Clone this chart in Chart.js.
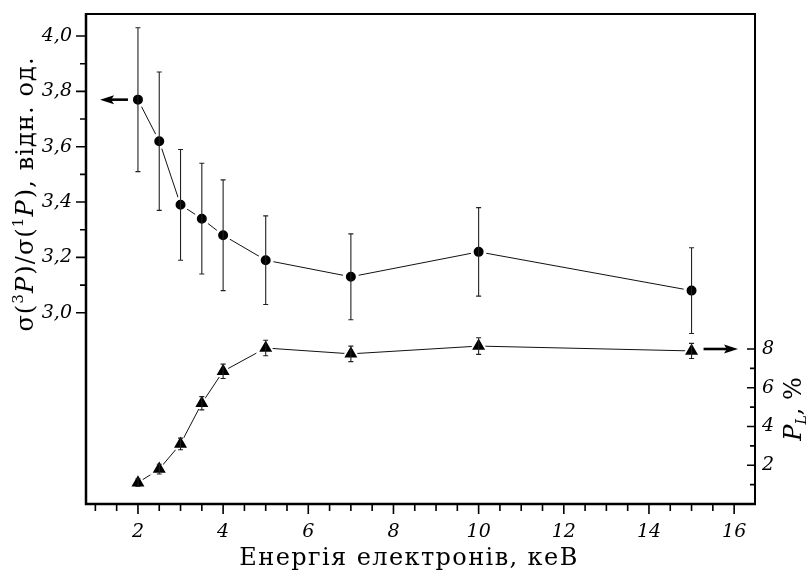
<!DOCTYPE html>
<html>
<head>
<meta charset="utf-8">
<script src="https://cdn.jsdelivr.net/npm/chart.js@4/dist/chart.umd.min.js"></script>
<style>
html,body{margin:0;padding:0;background:#ffffff;}
#wrap{width:810px;height:572px;}
</style>
</head>
<body>
<div id="wrap"><canvas id="c" width="810" height="572"></canvas></div>
<script>
// ---- data ----
const energies = [2, 2.5, 3, 3.5, 4, 5, 7, 10, 15];              // keV
const ratioValues = [3.77, 3.62, 3.39, 3.34, 3.28, 3.19, 3.13, 3.22, 3.08];
const ratioErrors = [0.26, 0.25, 0.20, 0.20, 0.20, 0.16, 0.155, 0.16, 0.155];
const polValues = [1.1, 1.8, 3.1, 5.2, 6.85, 8.05, 7.75, 8.15, 7.9]; // P_L, %
const polErrors = [0.2, 0.25, 0.3, 0.34, 0.37, 0.40, 0.40, 0.43, 0.39];

// ---- tick values ----
const xTickValues = [1, 1.5, 2, 2.5, 3, 3.5, 4, 4.5, 5, 5.5, 6, 6.5, 7, 7.5, 8, 8.5, 9, 9.5, 10, 10.5, 11, 11.5, 12, 12.5, 13, 13.5, 14, 14.5, 15, 15.5, 16];
const xLabelValues = [2, 4, 6, 8, 10, 12, 14, 16];
const leftTickValues = [3.0, 3.1, 3.2, 3.3, 3.4, 3.5, 3.6, 3.7, 3.8, 3.9, 4.0];
const leftLabelValues = [3.0, 3.2, 3.4, 3.6, 3.8, 4.0];
const rightTickValues = [1, 2, 3, 4, 5, 6, 7, 8];
const rightLabelValues = [2, 4, 6, 8];

const xTitle = 'Енергія електронів, кеВ';

const SERIF = "'DejaVu Serif', 'Liberation Serif', serif";
const has = (arr, v) => arr.some(a => Math.abs(a - v) < 1e-6);

// frame
const framePlugin = {
  id: 'frame',
  afterDatasetsDraw(chart) {
    const {ctx, chartArea: a} = chart;
    ctx.save();
    ctx.strokeStyle = '#000';
    ctx.lineWidth = 2;
    ctx.beginPath();
    ctx.moveTo(a.left, a.top); ctx.lineTo(a.right, a.top); ctx.lineTo(a.right, a.bottom);
    ctx.stroke();
    ctx.lineWidth = 2.5;
    ctx.beginPath();
    ctx.moveTo(a.left, a.top - 1); ctx.lineTo(a.left, a.bottom); ctx.lineTo(a.right + 1, a.bottom);
    ctx.stroke();
    ctx.restore();
  }
};

// tick marks of different length (major/minor)
const tickPlugin = {
  id: 'tickmarks',
  afterDraw(chart) {
    const {ctx, chartArea: a, scales} = chart;
    ctx.save();
    ctx.strokeStyle = '#000';
    ctx.lineWidth = 1.6;
    ctx.beginPath();
    scales.x.ticks.forEach(t => {
      const px = scales.x.getPixelForValue(t.value);
      const len = has(xLabelValues, t.value) ? 10 : 7;
      ctx.moveTo(px, a.bottom); ctx.lineTo(px, a.bottom + len);
    });
    scales.y.ticks.forEach(t => {
      const py = scales.y.getPixelForValue(t.value);
      const len = has(leftLabelValues, t.value) ? 10 : 6;
      ctx.moveTo(a.left, py); ctx.lineTo(a.left - len, py);
    });
    scales.y2.ticks.forEach(t => {
      const py = scales.y2.getPixelForValue(t.value);
      const len = has(rightLabelValues, t.value) ? 8 : 5;
      ctx.moveTo(a.right, py); ctx.lineTo(a.right - len, py);
    });
    ctx.stroke();
    ctx.restore();
  }
};

// error bars
const errorBarPlugin = {
  id: 'errorbars',
  afterDatasetsDraw(chart) {
    const {ctx} = chart;
    ctx.save();
    chart.data.datasets.forEach((ds, di) => {
      const meta = chart.getDatasetMeta(di);
      const ys = chart.scales[ds.yAxisID];
      meta.data.forEach((pt, i) => {
        const v = ds.data[i].y, e = ds.errors[i];
        const yt = ys.getPixelForValue(v + e), yb = ys.getPixelForValue(v - e);
        const cap = ds.capHalf;
        ctx.strokeStyle = '#222';
        ctx.lineWidth = 1.1;
        ctx.beginPath();
        ctx.moveTo(pt.x, yt); ctx.lineTo(pt.x, yb);
        ctx.moveTo(pt.x - cap, yt); ctx.lineTo(pt.x + cap, yt);
        ctx.moveTo(pt.x - cap, yb); ctx.lineTo(pt.x + cap, yb);
        ctx.stroke();
      });
    });
    ctx.restore();
  }
};

// arrows pointing to the relevant axis
function arrow(ctx, x0, x1, y) {
  const dir = Math.sign(x1 - x0);
  const head = 14, hw = 4.5;
  ctx.beginPath();
  ctx.lineWidth = 2.6;
  ctx.moveTo(x0, y); ctx.lineTo(x1 - dir * head * 0.6, y);
  ctx.stroke();
  ctx.beginPath();
  ctx.moveTo(x1, y);
  ctx.lineTo(x1 - dir * head, y - hw);
  ctx.lineTo(x1 - dir * head * 0.8, y);
  ctx.lineTo(x1 - dir * head, y + hw);
  ctx.closePath();
  ctx.fill();
}
const arrowPlugin = {
  id: 'arrows',
  afterDatasetsDraw(chart) {
    const {ctx, chartArea: a, scales} = chart;
    ctx.save();
    ctx.strokeStyle = '#000'; ctx.fillStyle = '#000';
    const yL = scales.y.getPixelForValue(ratioValues[0]);
    const xL = scales.x.getPixelForValue(energies[0]);
    arrow(ctx, xL - 10, a.left + 14, yL);
    const yR = scales.y2.getPixelForValue(rightLabelValues[rightLabelValues.length - 1]);
    const xR = scales.x.getPixelForValue(energies[energies.length - 1]);
    arrow(ctx, xR + 12, a.right - 17, yR);
    ctx.restore();
  }
};

// rich-text titles (italic P, super/subscripts), drawn as canvas text
function drawRich(ctx, segs, cx, cy, rot, spacing) {
  ctx.save();
  ctx.translate(cx, cy);
  if (rot) ctx.rotate(rot);
  try { ctx.letterSpacing = (spacing || 0) + 'px'; } catch (e) {}
  let total = 0;
  segs.forEach(s => { ctx.font = s.font; s.w = ctx.measureText(s.text).width + (s.kern || 0); total += s.w; });
  ctx.fillStyle = '#000';
  ctx.textAlign = 'left';
  ctx.textBaseline = 'alphabetic';
  let x = -total / 2;
  segs.forEach(s => { ctx.font = s.font; ctx.fillText(s.text, x, s.dy || 0); x += s.w; });
  ctx.restore();
}
const titlePlugin = {
  id: 'titles',
  afterDraw(chart) {
    const {ctx, chartArea: a} = chart;
    const R = `24px ${SERIF}`, I = `italic 24px ${SERIF}`, S = `15px ${SERIF}`;
    drawRich(ctx, [
      {text: 'σ(', font: R},
      {text: '3', font: S, dy: -10},
      {text: 'P', font: I, kern: 1},
      {text: ')/σ(', font: R},
      {text: '1', font: S, dy: -10},
      {text: 'P', font: I, kern: 1},
      {text: '), відн. од.', font: R}
    ], 33, 194, -Math.PI / 2, 1.1);
    drawRich(ctx, [
      {text: 'P', font: `italic 24px ${SERIF}`},
      {text: 'L', font: `italic 14px ${SERIF}`, dy: 5},
      {text: ', %', font: `24px ${SERIF}`}
    ], 801, 409, -Math.PI / 2, 0);
    // x axis title (text taken from the scale's title option)
    drawRich(ctx, [
      {text: chart.options.scales.x.title.text, font: `24px ${SERIF}`}
    ], 409, 565, 0, 1.4);
  }
};

const tickFont = {family: SERIF, style: 'italic', size: 19};

new Chart(document.getElementById('c'), {
  type: 'line',
  data: {
    datasets: [
      {
        label: 'σ(3P)/σ(1P)',
        yAxisID: 'y',
        data: energies.map((e, i) => ({x: e, y: ratioValues[i]})),
        errors: ratioErrors,
        capHalf: 2.5,
        borderColor: '#111',
        borderWidth: 1,
        pointStyle: 'circle',
        pointRadius: 6.5,
        pointBackgroundColor: '#000',
        pointBorderColor: '#fff',
        pointBorderWidth: 3,
        tension: 0
      },
      {
        label: 'P_L',
        yAxisID: 'y2',
        data: energies.map((e, i) => ({x: e, y: polValues[i]})),
        errors: polErrors,
        capHalf: 2.5,
        borderColor: '#111',
        borderWidth: 1,
        pointStyle: 'triangle',
        pointRadius: 9.5,
        pointBackgroundColor: '#000',
        pointBorderColor: '#fff',
        pointBorderWidth: 2,
        tension: 0
      }
    ]
  },
  options: {
    responsive: false,
    animation: false,
    events: [],
    layout: {padding: {top: 14, left: 0, right: 0, bottom: 0}},
    plugins: {legend: {display: false}, tooltip: {enabled: false}},
    scales: {
      x: {
        type: 'linear', position: 'bottom', min: 0.78, max: 16.49,
        grid: {display: false, drawTicks: false}, border: {display: false},
        afterBuildTicks: s => { s.ticks = xTickValues.map(v => ({value: v})); },
        afterFit: s => { s.height = 68; s.paddingLeft = 0; s.paddingRight = 0; },
        ticks: {
          autoSkip: false, maxRotation: 0, minRotation: 0, padding: 17,
          color: '#000', font: tickFont,
          callback: v => has(xLabelValues, v) ? String(v) : ''
        },
        title: {display: false, text: xTitle}
      },
      y: {
        type: 'linear', position: 'left', min: 2.309, max: 4.0795,
        grid: {display: false, drawTicks: false}, border: {display: false},
        afterBuildTicks: s => { s.ticks = leftTickValues.map(v => ({value: v})); },
        afterFit: s => { s.width = 86; s.paddingTop = 0; s.paddingBottom = 0; },
        ticks: {
          autoSkip: false, padding: 14, color: '#000', font: tickFont,
          callback: v => has(leftLabelValues, v) ? v.toFixed(1).replace('.', ',') : ''
        }
      },
      y2: {
        type: 'linear', position: 'right', min: 0, max: 25.29,
        grid: {display: false, drawTicks: false}, border: {display: false},
        afterBuildTicks: s => { s.ticks = rightTickValues.map(v => ({value: v})); },
        afterFit: s => { s.width = 55; s.paddingTop = 0; s.paddingBottom = 0; },
        ticks: {
          autoSkip: false, padding: 7, color: '#000', font: tickFont,
          callback: v => has(rightLabelValues, v) ? String(v) : ''
        }
      }
    }
  },
  plugins: [framePlugin, errorBarPlugin, arrowPlugin, tickPlugin, titlePlugin]
});
</script>
</body>
</html>
